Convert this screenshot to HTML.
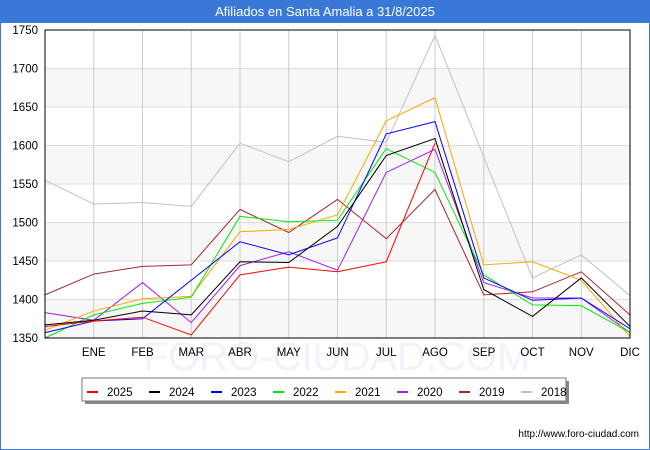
<!DOCTYPE html>
<html><head><meta charset="utf-8"><style>
body{margin:0;width:650px;height:450px;background:#fff;font-family:"Liberation Sans","DejaVu Sans",sans-serif;}
#frame{position:absolute;left:0;top:0;width:648px;height:448px;border:1px solid #3a78d8;}
#title{position:absolute;left:0;top:0;width:650px;height:23px;background:#3a78d8;color:#fff;font-size:13px;text-align:center;line-height:23px;}
svg{position:absolute;left:0;top:0;}
</style></head><body>
<div id="frame"></div>
<div id="title">Afiliados en Santa Amalia a 31/8/2025</div>
<svg id="c" width="650" height="450"></svg>
<script>
const months=["","ENE","FEB","MAR","ABR","MAY","JUN","JUL","AGO","SEP","OCT","NOV","DIC"];
const yTicks=[1350,1400,1450,1500,1550,1600,1650,1700,1750];
const seriesNames=["2025","2024","2023","2022","2021","2020","2019","2018"];
const colors=["#ff0000","#000000","#0000ff","#00ee00","#ffa500","#a020f0","#a52a2a","#c0c0c0"];
const s2025=[1365,1372,1377,1354,1432,1442,1436,1449,1603];
const s2024=[1367,1373,1385,1380,1449,1448,1495,1587,1609,1413,1378,1428,1365];
const s2023=[1357,1372,1375,1425,1475,1458,1480,1615,1631,1428,1399,1402,1362];
const s2022=[1350,1380,1395,1403,1508,1501,1503,1596,1565,1432,1393,1392,1357];
const s2021=[1360,1385,1401,1404,1488,1491,1510,1632,1662,1445,1449,1425,1352];
const s2020=[1383,1373,1422,1370,1444,1462,1438,1565,1595,1422,1402,1402,1357];
const s2019=[1406,1433,1443,1445,1517,1487,1530,1479,1543,1406,1410,1436,1380];
const s2018=[1555,1524,1526,1521,1603,1579,1612,1604,1743,1585,1428,1458,1405];
const allSeries=[s2025,s2024,s2023,s2022,s2021,s2020,s2019,s2018];
const X0=45,X1=630,Y0=338,Y1=30,VMIN=1350,VMAX=1750;
const xs=i=>X0+i*(X1-X0)/(months.length-1);
const ys=v=>Y0-(v-VMIN)/(VMAX-VMIN)*(Y0-Y1);
const svg=document.getElementById('c');const NS="http://www.w3.org/2000/svg";
function mk(t,a,p){const e=document.createElementNS(NS,t);for(const k in a)e.setAttribute(k,a[k]);(p||svg).appendChild(e);return e;}
for(let i=0;i<yTicks.length-1;i++){if(i%2==0){const r=mk('rect',{x:X0,y:ys(yTicks[i+1]),width:X1-X0,height:ys(yTicks[i])-ys(yTicks[i+1]),fill:'#f7f7f7'});}}
yTicks.forEach(v=>{const l=mk('line',{x1:X0,x2:X1,y1:ys(v),y2:ys(v),stroke:'#dddddd'});
const t=mk('text',{x:38,y:ys(v)+4,'text-anchor':'end','font-size':'11.5',fill:'#000'});t.textContent=v;});
const wm=mk('text',{x:337,y:370,'text-anchor':'middle','font-size':'40',fill:'#f0f3fa'});wm.textContent='FORO-CIUDAD.COM';
months.forEach((m,i)=>{const l=mk('line',{x1:xs(i),x2:xs(i),y1:Y1,y2:Y0,stroke:'#cccccc'});
if(m){const t=mk('text',{x:xs(i),y:356,'text-anchor':'middle','font-size':'11.5',fill:'#000'});t.textContent=m;}});
for(let k=allSeries.length-1;k>=0;k--){const d=allSeries[k];const pts=d.map((v,i)=>xs(i)+','+ys(v)).join(' ');
const pl=mk('polyline',{points:pts,fill:'none',stroke:colors[k],'stroke-width':1});}
const ax=mk('rect',{x:X0,y:Y1,width:X1-X0,height:Y0-Y1,fill:'none',stroke:'#000'});
const lg=mk('g',{});
mk('rect',{x:85,y:381,width:484,height:23,fill:'#888'},lg);
mk('rect',{x:82,y:378,width:484,height:23,fill:'#fff',stroke:'#777'},lg);
seriesNames.forEach((n,k)=>{const x=87+k*62;
const g=mk('g',{},lg);
mk('line',{x1:x,x2:x+11,y1:392,y2:392,stroke:colors[k],'stroke-width':2},g);
const t=mk('text',{x:x+20,y:396,'font-size':'11.5',fill:'#000'},g);t.textContent=n;});
const u=mk('text',{x:639,y:437,'text-anchor':'end','font-size':'10',fill:'#000'});u.textContent='http://www.foro-ciudad.com';
</script>
</body></html>
